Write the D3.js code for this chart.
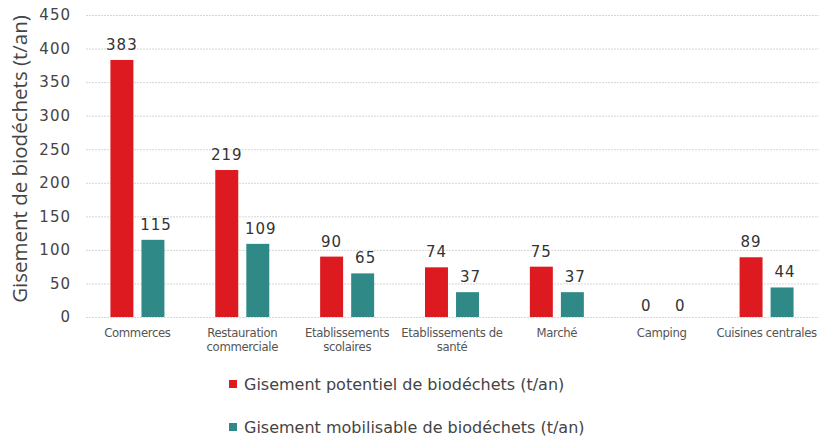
<html>
<head>
<meta charset="utf-8">
<title>Gisement de biodéchets</title>
<style>
body { margin: 0; background: #fff; }
svg { display: block; }
.grid line { stroke: #d6d6d6; stroke-dasharray: 2,1; }
.grid path { display: none; }
.yaxis text { font-family: "DejaVu Sans", Verdana, sans-serif; font-size: 15px; fill: #444; letter-spacing: 1px; }
.yaxis path, .yaxis line { display: none; }
.cat { font-family: "DejaVu Sans", sans-serif; font-size: 11.7px; fill: #555; letter-spacing: -0.35px; }
.val { font-family: "DejaVu Sans", Verdana, sans-serif; font-size: 15px; fill: #333; letter-spacing: 1px; }
.legend text { font-family: "DejaVu Sans", Verdana, sans-serif; font-size: 16px; fill: #444; }
</style>
</head>
<body>
<div id="chart"></div>
<script src="https://d3js.org/d3.v7.min.js"></script>
<script>

// data
const categories = [
	["Commerces"],
	["Restauration", "commerciale"],
	["Etablissements", "scolaires"],
	["Etablissements de", "santé"],
	["Marché"],
	["Camping"],
	["Cuisines centrales"]
];
const potentiel = [383, 219, 90, 74, 75, 0, 89];
const mobilisable = [115, 109, 65, 37, 37, 0, 44];
const seriesNames = [
	"Gisement potentiel de biodéchets (t/an)",
	"Gisement mobilisable de biodéchets (t/an)"
];
const yTicks = [0, 50, 100, 150, 200, 250, 300, 350, 400, 450];

const colors = ["#dc1a1f", "#2f8a87"];
const width = 820, height = 439;

const svg = d3.select('#chart').append('svg')
	.attr('width', width)
	.attr('height', height);

const x = d3.scaleBand()
	.domain(d3.range(categories.length))
	.range([85, 819]);

const y = d3.scaleLinear()
	.domain([0, 450])
	.range([317, 15]);

// inner band for the two series
const xs = d3.scaleBand()
	.domain([0, 1])
	.range([x.bandwidth() / 2 - 27, x.bandwidth() / 2 + 27])
	.paddingInner(0.26);

// gridlines
svg.append('g')
	.attr('class', 'grid')
	.attr('transform', 'translate(86,0)')
	.call(d3.axisLeft(y).tickValues(yTicks).tickSize(-(819 - 86)).tickFormat(''));

// y axis labels
svg.append('g')
	.attr('class', 'yaxis')
	.attr('transform', 'translate(75,0)')
	.call(d3.axisLeft(y).tickValues(yTicks).tickSize(0).tickPadding(4));

// y axis title
svg.append('text')
	.attr('transform', 'translate(27,159) rotate(-90)')
	.attr('text-anchor', 'middle')
	.style('font-family', '"Open Sans", sans-serif')
	.style('font-size', '20.5px')
	.style('fill', '#444')
	.text('Gisement de biodéchets (t/an)');

const series = [potentiel, mobilisable];

const groups = svg.selectAll('.grp')
	.data(categories)
	.enter().append('g')
	.attr('class', 'grp')
	.attr('transform', (d, i) => 'translate(' + x(i) + ',0)');

series.forEach((vals, s) => {
	groups.append('rect')
		.attr('x', xs(s))
		.attr('width', xs.bandwidth())
		.attr('y', (d, i) => y(vals[i]))
		.attr('height', (d, i) => y(0) - y(vals[i]))
		.attr('fill', colors[s]);

	groups.append('text')
		.attr('class', 'val')
		.attr('x', xs(s) + xs.bandwidth() / 2 + (s === 1 ? 3 : 0))
		.attr('y', (d, i) => y(vals[i]) - (vals[i] === 0 ? 6 : 10))
		.attr('text-anchor', 'middle')
		.text((d, i) => vals[i]);
});

// category labels
groups.append('text')
	.attr('class', 'cat')
	.attr('text-anchor', 'middle')
	.attr('x', x.bandwidth() / 2)
	.attr('y', 337)
	.selectAll('tspan')
	.data(d => d)
	.enter().append('tspan')
	.attr('x', x.bandwidth() / 2)
	.attr('dy', (d, i) => i === 0 ? 0 : 13.5)
	.text(d => d);

// legend
const legend = svg.append('g').attr('class', 'legend');
seriesNames.forEach((name, s) => {
	const ly = 384 + s * 43;
	legend.append('rect')
		.attr('x', 229)
		.attr('y', ly - 4)
		.attr('width', 8)
		.attr('height', 8)
		.attr('fill', colors[s]);
	legend.append('text')
		.attr('x', 244)
		.attr('y', ly + 6)
		.text(name);
});

</script>
</body>
</html>
